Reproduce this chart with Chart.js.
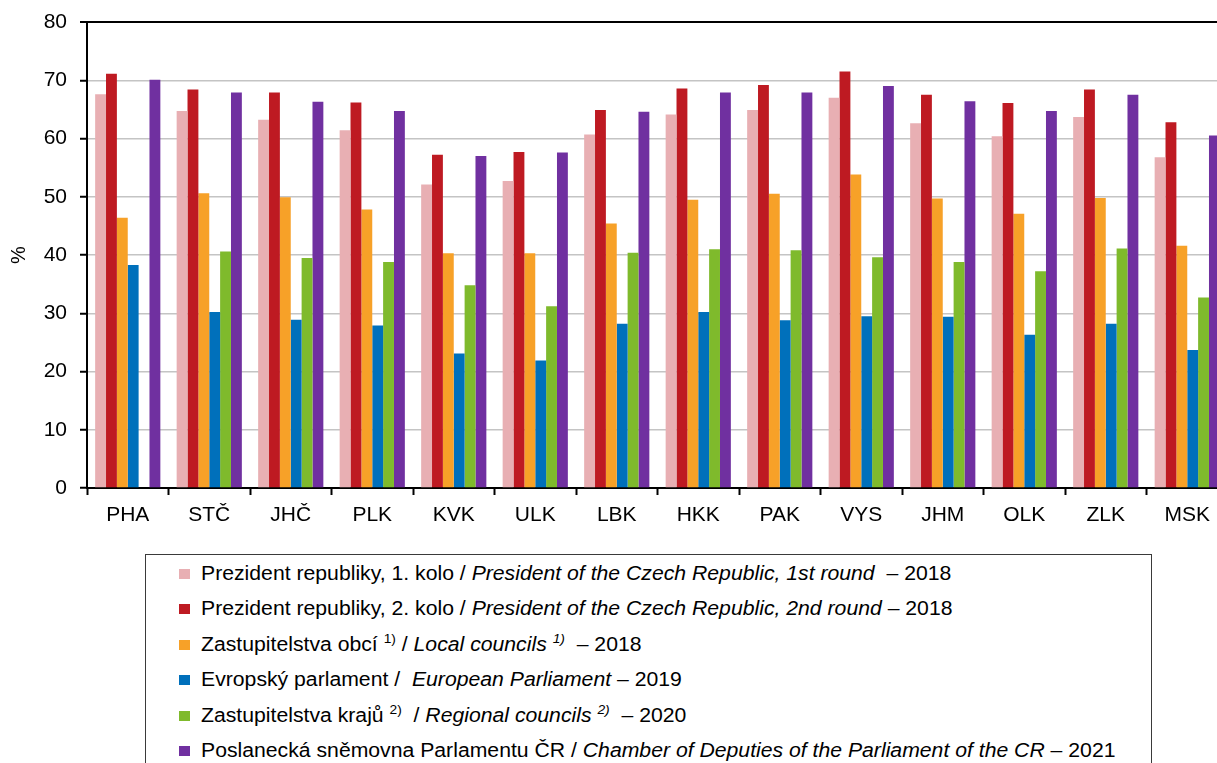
<!DOCTYPE html>
<html>
<head>
<meta charset="utf-8">
<script src="https://cdn.jsdelivr.net/npm/chart.js@4/dist/chart.umd.min.js"></script>
<style>
  html, body { margin: 0; padding: 0; background: #fff; overflow: hidden; }
  body { width: 1217px; height: 763px; position: relative; font-family: "Liberation Sans", Arial, sans-serif; }
  #turnoutChart { position: absolute; left: 0; top: 0; }
  #legend {
    position: absolute; left: 145px; top: 554px; width: 1007px; height: 230px;
    border: 1.5px solid #3a3a3a; box-sizing: border-box; padding-top: 1px;
  }
  .row { position: relative; height: 35.4px; line-height: 35.4px; padding-left: 55px; font-size: 20px; color: #000; white-space: pre; }
  .row .txt { display: inline-block; transform: scaleX(1.06); transform-origin: left center; }
  .row i { font-style: italic; }
  .row sup { font-size: 13px; line-height: 0; vertical-align: 8px; }
  .sw { position: absolute; left: 33px; top: 13px; width: 11px; height: 10px; }
</style>
</head>
<body>
<canvas id="turnoutChart" width="1229" height="545"></canvas>
<div id="legend"></div>
<script>
// regions (kraje)
const regions = ['PHA', 'STČ', 'JHČ', 'PLK', 'KVK', 'ULK', 'LBK', 'HKK', 'PAK', 'VYS', 'JHM', 'OLK', 'ZLK', 'MSK'];

// turnout in %, one array per election
const president1 = [67.6, 64.7, 63.2, 61.4, 52.1, 52.7, 60.7, 64.1, 64.9, 67.0, 62.6, 60.4, 63.7, 56.8];
const president2 = [71.1, 68.4, 67.9, 66.2, 57.2, 57.7, 64.9, 68.6, 69.2, 71.5, 67.5, 66.1, 68.4, 62.8];
const localCouncils = [46.4, 50.6, 49.9, 47.8, 40.3, 40.3, 45.4, 49.5, 50.5, 53.8, 49.7, 47.1, 49.8, 41.6];
const europeanParl = [38.3, 30.2, 28.9, 27.9, 23.1, 21.9, 28.2, 30.2, 28.8, 29.5, 29.4, 26.3, 28.2, 23.7];
const regionalCouncils = [null, 40.6, 39.5, 38.8, 34.8, 31.2, 40.4, 41.0, 40.8, 39.6, 38.8, 37.2, 41.1, 32.7];
const chamberDeputies = [70.1, 67.9, 66.3, 64.7, 57.0, 57.6, 64.6, 67.9, 67.9, 69.0, 66.4, 64.7, 67.5, 60.5];

const yTicks = [0, 10, 20, 30, 40, 50, 60, 70, 80];

const seriesColors = ['#e8afb3', '#be1a22', '#f7a128', '#0070bb', '#7fba2c', '#7030a0'];

const legendLabels = [
  'Prezident republiky, 1. kolo / <i>President of the Czech Republic, 1st round </i> – 2018',
  'Prezident republiky, 2. kolo / <i>President of the Czech Republic, 2nd round</i> – 2018',
  'Zastupitelstva obcí <sup>1)</sup> / <i>Local councils <sup>1)</sup></i>  – 2018',
  'Evropský parlament /  <i>European Parliament</i> – 2019',
  'Zastupitelstva krajů <sup>2)</sup>  / <i>Regional councils <sup>2)</sup></i>  – 2020',
  'Poslanecká sněmovna Parlamentu ČR / <i>Chamber of Deputies of the Parliament of the CR</i> – 2021'
];

const seriesData = [president1, president2, localCouncils, europeanParl, regionalCouncils, chamberDeputies];

const FONT = '"Liberation Sans", Arial, sans-serif';

new Chart(document.getElementById('turnoutChart'), {
  type: 'bar',
  data: {
    labels: regions,
    datasets: seriesData.map((data, i) => ({
      label: legendLabels[i],
      data,
      backgroundColor: seriesColors[i],
      borderWidth: 0,
      categoryPercentage: 0.8,
      barPercentage: 1.0
    }))
  },
  options: {
    responsive: false,
    animation: false,
    layout: { padding: { top: 22, right: 1, left: 0, bottom: 0 } },
    plugins: {
      legend: { display: false },
      tooltip: { enabled: false }
    },
    scales: {
      x: {
        afterFit: (scale) => { scale.height = 57; },
        grid: {
          offset: true,
          drawOnChartArea: false,
          drawTicks: true,
          tickLength: 7,
          tickColor: '#000',
          tickWidth: 2
        },
        border: { color: '#000', width: 2 },
        ticks: {
          color: '#000',
          font: { family: FONT, size: 21 },
          padding: 8,
          maxRotation: 0
        }
      },
      y: {
        min: 0,
        max: 80,
        afterFit: (scale) => {
          scale.width = 87;
          // keep the top label from pushing the plot area down
          scale.paddingTop = 0;
          scale.paddingBottom = 0;
        },
        afterBuildTicks: (scale) => { scale.ticks = yTicks.map(v => ({ value: v })); },
        grid: {
          color: (ctx) => ctx.tick && ctx.tick.value === 80 ? '#000' : '#c4c4c4',
          lineWidth: (ctx) => ctx.tick && ctx.tick.value === 80 ? 2 : 1.5,
          tickLength: 7,
          tickColor: '#000',
          tickWidth: 2
        },
        border: { color: '#000', width: 2 },
        ticks: {
          color: '#000',
          font: { family: FONT, size: 21 },
          padding: 13
        },
        title: {
          display: true,
          text: '%',
          color: '#000',
          font: { family: FONT, size: 20 },
          padding: { top: 7, bottom: 0 }
        }
      }
    }
  }
});

// legend box below the chart
const legendBox = document.getElementById('legend');
legendLabels.forEach((html, i) => {
  const row = document.createElement('div');
  row.className = 'row';
  row.innerHTML = '<span class="sw" style="background:' + seriesColors[i] + '"></span><span class="txt">' + html + '</span>';
  legendBox.appendChild(row);
});
</script>
</body>
</html>
